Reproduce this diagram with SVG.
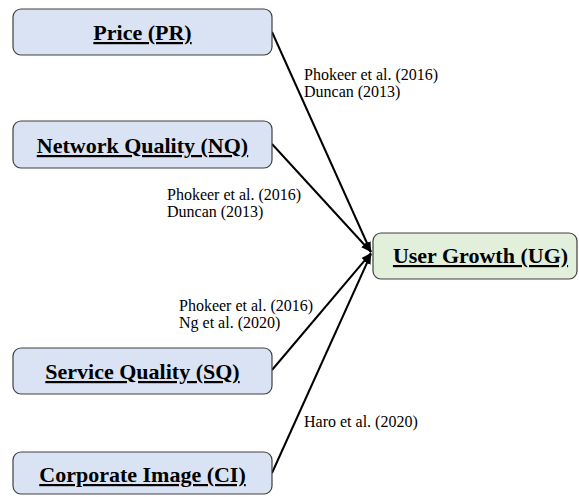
<svg xmlns="http://www.w3.org/2000/svg" width="579" height="497" viewBox="0 0 579 497">
  <defs>
    <marker id="arrow" viewBox="0 0 10 10" refX="10" refY="5" markerWidth="5" markerHeight="5" orient="auto" markerUnits="strokeWidth">
      <path d="M0,1 L10,5 L0,9 z" fill="#000"/>
    </marker>
    <style>
      .box { fill: #dae3f3; stroke: #404040; stroke-width: 1.2; }
      .goal { fill: #e2efda; stroke: #404040; stroke-width: 1.2; }
      .link { stroke: #000; stroke-width: 2; fill: none; marker-end: url(#arrow); }
    </style>
  </defs>
  <rect width="579" height="497" fill="#fff"/>

  <!-- arrows from each factor into User Growth -->
  <g id="connectors">
    <line class="link" x1="272" y1="32" x2="371" y2="252"/>
    <line class="link" x1="272" y1="144" x2="371" y2="252"/>
    <line class="link" x1="272" y1="370" x2="371" y2="253"/>
    <line class="link" x1="272" y1="473" x2="371" y2="254"/>
  </g>

  <g id="node-pr">
    <rect class="box" x="13" y="9" width="259" height="46" rx="8"/>
    <text x="142.5" y="40" font-family="Tinos, 'Liberation Serif', serif" font-size="22" font-weight="bold" text-decoration="underline" text-anchor="middle">Price (PR)</text>
  </g>
  <g id="node-nq">
    <rect class="box" x="13" y="121" width="259" height="47" rx="8"/>
    <text x="142.5" y="153" font-family="Tinos, 'Liberation Serif', serif" font-size="22" font-weight="bold" text-decoration="underline" text-anchor="middle">Network Quality (NQ)</text>
  </g>
  <g id="node-sq">
    <rect class="box" x="13" y="348" width="259" height="46" rx="8"/>
    <text x="142.5" y="379" font-family="Tinos, 'Liberation Serif', serif" font-size="22" font-weight="bold" text-decoration="underline" text-anchor="middle">Service Quality (SQ)</text>
  </g>
  <g id="node-ci">
    <rect class="box" x="13" y="452" width="259" height="42" rx="8"/>
    <text x="142.5" y="482" font-family="Tinos, 'Liberation Serif', serif" font-size="22" font-weight="bold" text-decoration="underline" text-anchor="middle">Corporate Image (CI)</text>
  </g>
  <g id="node-ug">
    <rect class="goal" x="373" y="233" width="204" height="46" rx="8"/>
    <text x="480.5" y="263" font-family="Tinos, 'Liberation Serif', serif" font-size="22" font-weight="bold" text-decoration="underline" text-anchor="middle">User Growth (UG)</text>
  </g>

  <g id="citations">
    <text x="304" y="80" font-family="Tinos, 'Liberation Serif', serif" font-size="16">Phokeer et al. (2016)</text>
    <text x="304" y="97" font-family="Tinos, 'Liberation Serif', serif" font-size="16">Duncan (2013)</text>
    <text x="167" y="200" font-family="Tinos, 'Liberation Serif', serif" font-size="16">Phokeer et al. (2016)</text>
    <text x="167" y="217" font-family="Tinos, 'Liberation Serif', serif" font-size="16">Duncan (2013)</text>
    <text x="179" y="311" font-family="Tinos, 'Liberation Serif', serif" font-size="16">Phokeer et al. (2016)</text>
    <text x="179" y="328" font-family="Tinos, 'Liberation Serif', serif" font-size="16">Ng et al. (2020)</text>
    <text x="304" y="427" font-family="Tinos, 'Liberation Serif', serif" font-size="16">Haro et al. (2020)</text>
  </g>
</svg>
